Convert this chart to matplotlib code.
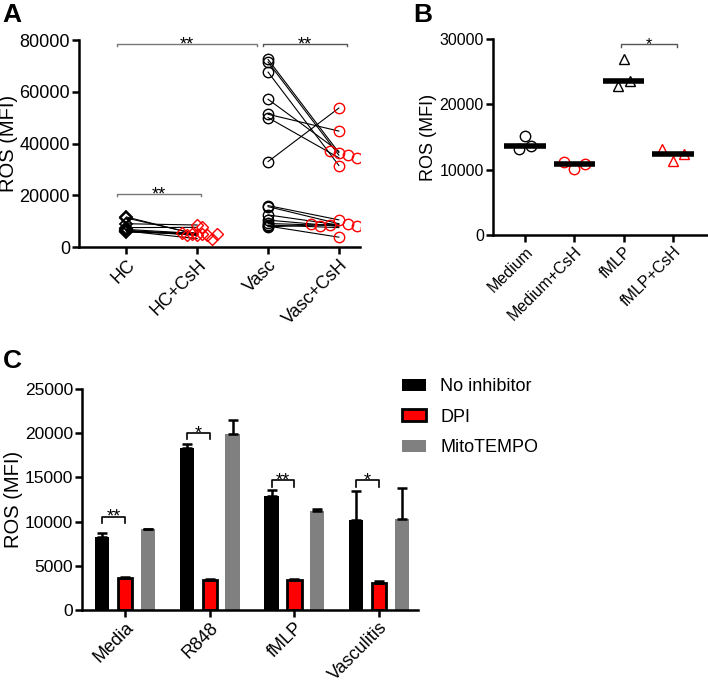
import numpy as np
import matplotlib.pyplot as plt

plt.rcParams['font.family'] = ['Liberation Sans', 'DejaVu Sans']

# Panel A: paired ROS values, healthy controls and vasculitis, +/- CsH
a_groups = ["HC", "HC+CsH", "Vasc", "Vasc+CsH"]
hc = [11600, 11200, 9000, 7500, 6800, 6500, 6300, 6200, 6000, 5800]
hc_csh = [4800, 5000, 8500, 7600, 5200, 4600, 4500, 3200, 5400, 5000]
vasc = [72500, 71500, 67600, 57100, 51300, 50000, 33000,
        16000, 15600, 12400, 10400, 9100, 8500, 8100, 7800]
vasc_csh = [36500, 35500, 31500, 37000, 44800, 34500, 53700,
            10500, 9000, 8500, 8000, 8200, 7500, 3800, 8800]

# Panel B: individual points per condition (median shown as bar)
b_groups = ["Medium", "Medium+CsH", "fMLP", "fMLP+CsH"]
b_points = [[13100, 15100, 13700],
            [11200, 10100, 10800],
            [22800, 26900, 23600],
            [13100, 11300, 12400]]

# Panel C: means and SEM
c_groups = ["Media", "R848", "fMLP", "Vasculitis"]
c_series = ["No inhibitor", "DPI", "MitoTEMPO"]
no_inh = [8230, 18300, 12950, 10200]
no_inh_err = [530, 500, 650, 3280]
dpi = [3590, 3400, 3400, 3020]
dpi_err = [190, 110, 70, 300]
mito = [9180, 19940, 11220, 10310]
mito_err = [0, 1510, 220, 3470]


def style(ax):
    for s in ["top", "right"]:
        ax.spines[s].set_visible(False)
    for s in ["left", "bottom"]:
        ax.spines[s].set_linewidth(1.8)
    ax.tick_params(width=1.8, length=5, direction="out", pad=1.5)


def swarm(values, dx, dy):
    # simple beeswarm: push overlapping points sideways
    placed = []
    offs = []
    for v in values:
        k = 0
        while True:
            step = (k + 1) // 2 * (1 if k % 2 else -1)
            x = step * dx
            if all(((x - px) / dx) ** 2 + ((v - py) / dy) ** 2 >= 1 for px, py in placed):
                break
            k += 1
        placed.append((x, v))
        offs.append(x)
    return np.array(offs)


def bracket(ax, x1, x2, y, h, text, color="k", lw=1.0, fs=13):
    ax.plot([x1, x1, x2, x2], [y - h, y, y, y - h], color=color, lw=lw, clip_on=False)
    ax.annotate(text, xy=((x1 + x2) / 2, y), xytext=(0, -3.8), textcoords="offset points",
                ha="center", va="baseline", fontsize=fs, annotation_clip=False)


fig = plt.figure(figsize=(7.08, 6.85), dpi=100)

# ---------------- A
axA = fig.add_axes([0.1116, 0.6394, 0.397, 0.3022])
for a, b in zip(hc, hc_csh):
    axA.plot([0, 1], [a, b], color="k", lw=0.8)
for a, b in zip(vasc, vasc_csh):
    axA.plot([2, 3], [a, b], color="k", lw=0.8)
axA.plot(np.zeros(len(hc)), hc, "D", mfc="none", mec="k", ms=6.5, mew=1.3)
axA.plot(1 + swarm(hc_csh, 0.07, 2500), hc_csh, "D", mfc="none", mec="red", ms=6.5, mew=1)
axA.plot(np.full(len(vasc), 2), vasc, "o", mfc="none", mec="k", ms=7.5, mew=1)
axA.plot(3 + swarm(vasc_csh, 0.13, 3800), vasc_csh, "o", mfc="none", mec="red", ms=7.5, mew=1)
axA.set_xlim(-0.67, 3.3)
axA.set_ylim(0, 80000)
axA.set_yticks([0, 20000, 40000, 60000, 80000])
axA.set_xticks(range(4))
axA.set_xticklabels(a_groups, rotation=45, ha="right", rotation_mode="anchor", fontsize=13)
axA.tick_params(axis="y", labelsize=13)
axA.set_ylabel("ROS (MFI)", fontsize=14.5, labelpad=1)
style(axA)
bracket(axA, -0.13, 1.05, 20500, 900, "**", color="#777777")
bracket(axA, -0.13, 1.84, 78500, 900, "**", color="#777777")
bracket(axA, 1.93, 3.12, 78500, 900, "**", color="#555555")
fig.text(0.004, 0.968, "A", fontsize=19, fontweight="bold")

# ---------------- B
axB = fig.add_axes([0.6963, 0.6569, 0.3037, 0.2861])
b_markers = ["o", "o", "^", "^"]
b_colors = ["k", "red", "k", "red"]
b_spread = [0.13, 0.22, 0.12, 0.22]
for i, pts in enumerate(b_points):
    xs = i + np.array([-1, 0, 1]) * b_spread[i]
    axB.plot(xs, pts, b_markers[i], mfc="none", mec=b_colors[i], ms=7.5, mew=1)
    m = np.median(pts)
    axB.plot([i - 0.42, i + 0.42], [m, m], color="k", lw=4, solid_capstyle="butt")
axB.set_xlim(-0.65, 3.71)
axB.set_ylim(0, 30000)
axB.set_yticks([0, 10000, 20000, 30000])
axB.set_xticks(range(4))
axB.set_xticklabels(b_groups, rotation=45, ha="right", rotation_mode="anchor", fontsize=11.5)
axB.tick_params(axis="y", labelsize=11.5)
axB.set_ylabel("ROS (MFI)", fontsize=13, labelpad=2)
style(axB)
bracket(axB, 1.95, 3.08, 29200, 350, "*", color="#555555", fs=11.5)
fig.text(0.583, 0.968, "B", fontsize=19, fontweight="bold")

# ---------------- C
axC = fig.add_axes([0.1158, 0.1095, 0.4746, 0.3226])
x = np.arange(len(c_groups))
w = 0.17
off = 0.27
err_kw = dict(ecolor="k", elinewidth=1.8, capsize=3.5, capthick=1.8)
axC.bar(x - off, no_inh, w, color="k", yerr=[np.zeros(4), no_inh_err], error_kw=err_kw, label=c_series[0])
axC.bar(x, dpi, w, color="red", edgecolor="k", lw=2, yerr=[np.zeros(4), dpi_err], error_kw=err_kw, label=c_series[1])
axC.bar(x + off, mito, w, color="#808080", yerr=[np.zeros(4), mito_err], error_kw=err_kw, label=c_series[2])
axC.set_xlim(-0.51, 3.46)
axC.set_ylim(0, 25000)
axC.set_yticks(range(0, 25001, 5000))
axC.set_xticks(x)
axC.set_xticklabels(c_groups, rotation=45, ha="right", rotation_mode="anchor", fontsize=13)
axC.tick_params(axis="y", labelsize=12.5)
axC.set_ylabel("ROS (MFI)", fontsize=14.5, labelpad=1)
style(axC)
c_stars = ["**", "*", "**", "*"]
c_brk = [10570, 20000, 14650, 14650]
for i in range(4):
    bracket(axC, i - off, i, c_brk[i], 700, c_stars[i], color="k", lw=1.2)
axC.legend(loc="upper left", bbox_to_anchor=(0.952, 1.05), frameon=False, fontsize=13,
           borderpad=0, borderaxespad=0, handlelength=1.32, handleheight=0.63,
           handletextpad=0.8, labelspacing=0.75)
fig.text(0.004, 0.463, "C", fontsize=19, fontweight="bold")

fig.savefig("out.png", dpi=100)
